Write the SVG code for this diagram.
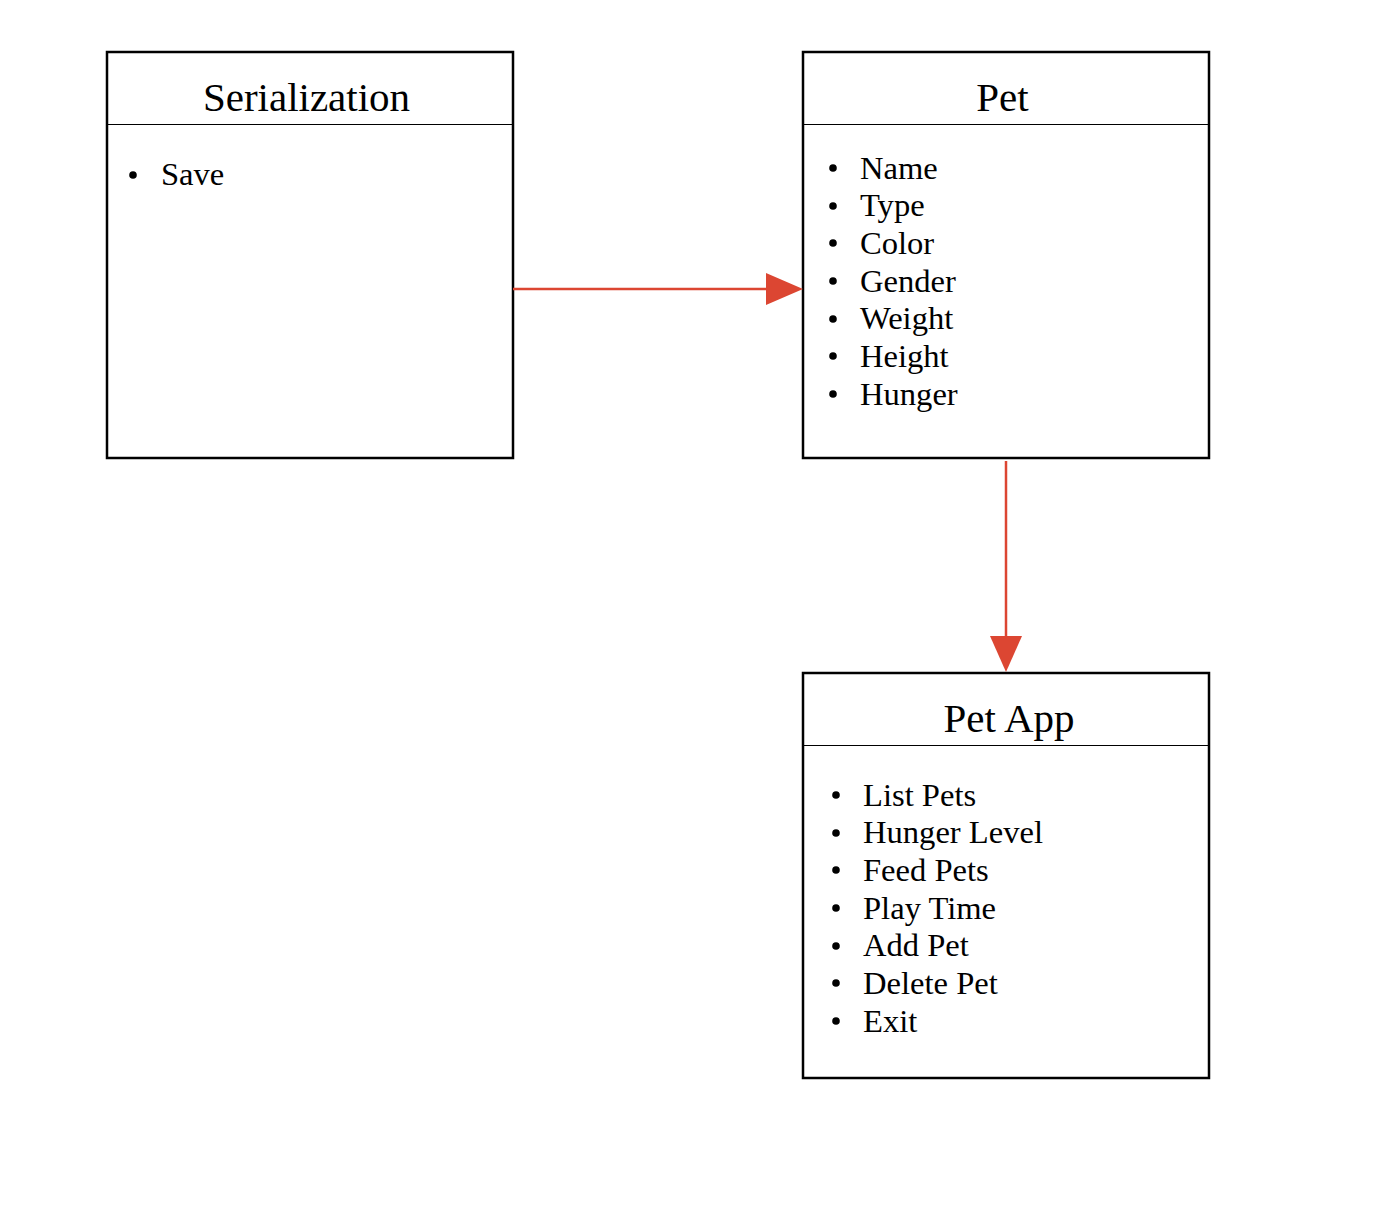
<svg xmlns="http://www.w3.org/2000/svg" width="1374" height="1224" viewBox="0 0 1374 1224">
<style>
.box{fill:#fff;stroke:#000;stroke-width:2.5}
.hdr{stroke:#000;stroke-width:1}
.title{font-family:"Liberation Serif","Times New Roman",serif;font-size:41px;fill:#000;text-anchor:middle}
.item{font-family:"Liberation Serif","Times New Roman",serif;font-size:32.6px;fill:#000}
.conn{stroke:#dc4632;stroke-width:2.5;fill:none}
.head{fill:#dc4632}
</style>
<rect width="1374" height="1224" fill="#fff"/>
<g id="serialization">
<rect class="box" x="107" y="52" width="406" height="406"/>
<line class="hdr" x1="107" y1="124.5" x2="513" y2="124.5"/>
<text class="title" x="306.5" y="111">Serialization</text>
<circle cx="133" cy="175" r="3.8"/>
<text class="item" x="161" y="185">Save</text>
</g>
<g id="pet">
<rect class="box" x="803" y="52" width="406" height="406"/>
<line class="hdr" x1="803" y1="124.5" x2="1209" y2="124.5"/>
<text class="title" x="1002.5" y="111">Pet</text>
<g>
<circle cx="833" cy="168" r="3.8"/><text class="item" x="860" y="178.5">Name</text>
<circle cx="833" cy="206" r="3.8"/><text class="item" x="860" y="216">Type</text>
<circle cx="833" cy="243" r="3.8"/><text class="item" x="860" y="254">Color</text>
<circle cx="833" cy="281" r="3.8"/><text class="item" x="860" y="291.5">Gender</text>
<circle cx="833" cy="319" r="3.8"/><text class="item" x="860" y="329">Weight</text>
<circle cx="833" cy="356" r="3.8"/><text class="item" x="860" y="367">Height</text>
<circle cx="833" cy="394" r="3.8"/><text class="item" x="860" y="404.5">Hunger</text>
</g>
</g>
<g id="petapp">
<rect class="box" x="803" y="673" width="406" height="405"/>
<line class="hdr" x1="803" y1="745.5" x2="1209" y2="745.5"/>
<text class="title" x="1009" y="732">Pet App</text>
<g>
<circle cx="836" cy="795" r="3.8"/><text class="item" x="863" y="805.5">List Pets</text>
<circle cx="836" cy="833" r="3.8"/><text class="item" x="863" y="843">Hunger Level</text>
<circle cx="836" cy="870" r="3.8"/><text class="item" x="863" y="881">Feed Pets</text>
<circle cx="836" cy="908" r="3.8"/><text class="item" x="863" y="918.5">Play Time</text>
<circle cx="836" cy="946" r="3.8"/><text class="item" x="863" y="956">Add Pet</text>
<circle cx="836" cy="983" r="3.8"/><text class="item" x="863" y="994">Delete Pet</text>
<circle cx="836" cy="1021" r="3.8"/><text class="item" x="863" y="1031.5">Exit</text>
</g>
</g>
<g id="connectors">
<line class="conn" x1="513" y1="289" x2="768" y2="289"/>
<polygon class="head" points="766,273 803,289 766,305"/>
<line class="conn" x1="1006" y1="461" x2="1006" y2="638"/>
<polygon class="head" points="990,636 1022,636 1006,672"/>
</g>
</svg>
